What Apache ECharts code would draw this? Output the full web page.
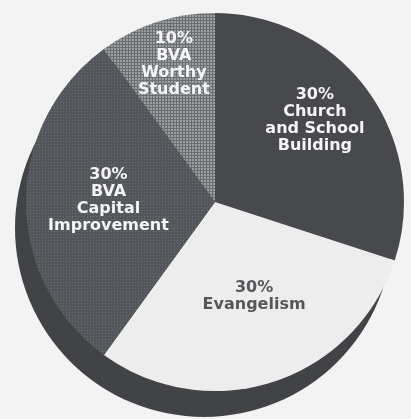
<!DOCTYPE html>
<html>
<head>
<meta charset="utf-8">
<script src="https://cdn.jsdelivr.net/npm/echarts@6/dist/echarts.min.js"></script>
<style>
html,body{margin:0;padding:0;background:#f3f3f3;}
#c{width:411px;height:419px;}
</style>
</head>
<body>
<div id="c"></div>
<script>
// Data
const categories = ["Church\nand School\nBuilding", "Evangelism", "BVA\nCapital\nImprovement", "BVA\nWorthy\nStudent"];
const shares = [30, 30, 30, 10];

// Styling (not data)
function dotPattern(base, dot, step, size) {
  const c = document.createElement('canvas');
  c.width = step; c.height = step;
  const g = c.getContext('2d');
  g.fillStyle = base; g.fillRect(0, 0, step, step);
  g.fillStyle = dot; g.fillRect(0, 0, size, size);
  return { image: c, repeat: 'repeat' };
}
const sliceColors = [
  '#47494d',
  '#ededed',
  dotPattern('#53565a', '#6c6f73', 3, 1),
  dotPattern('#6a6d71', '#9c9fa2', 3, 2)
];
const labelColors = ['#f4f4f4', '#56575a', '#f4f4f4', '#f4f4f4'];
const labelOffsets = [[21, -24], [9, 2], [-9, -2], [-11, -45]];

const chart = echarts.init(document.getElementById('c'), null, { renderer: 'canvas' });
chart.setOption({
  backgroundColor: '#f3f3f3',
  animation: false,
  series: [
    {
      type: 'pie',
      silent: true,
      z: 1,
      center: [204, 228],
      radius: 189,
      label: { show: false },
      labelLine: { show: false },
      itemStyle: { color: '#414346' },
      data: [{ value: shares.reduce((a, b) => a + b, 0), name: 'shadow' }]
    },
    {
      type: 'pie',
      z: 2,
      center: [215, 202],
      radius: 189,
      startAngle: 90,
      clockwise: true,
      labelLine: { show: false },
      data: categories.map((name, i) => ({
        name: name,
        value: shares[i],
        itemStyle: { color: sliceColors[i], borderWidth: 0 },
        label: {
          show: true,
          position: 'inside',
          color: labelColors[i],
          offset: labelOffsets[i],
          fontFamily: 'DejaVu Sans',
          fontWeight: 'bold',
          fontSize: 16,
          lineHeight: 17,
          align: 'center',
          formatter: (p) => p.value + '%\n' + p.name
        }
      }))
    }
  ]
});
</script>
</body>
</html>
